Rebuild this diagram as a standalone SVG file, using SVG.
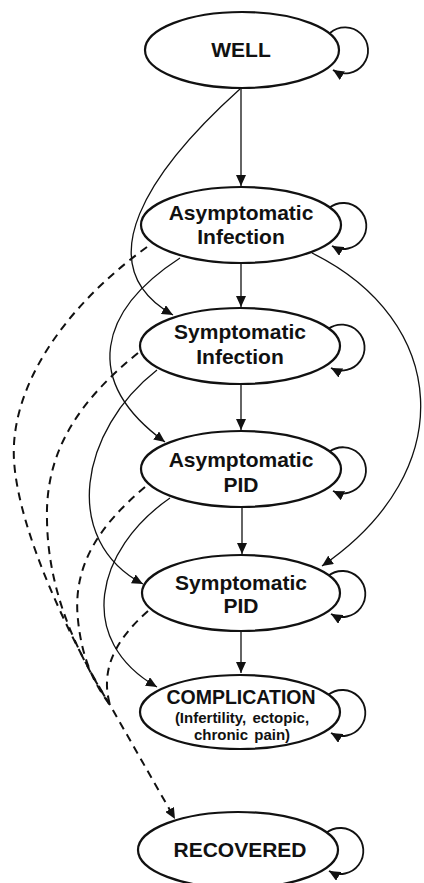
<svg xmlns="http://www.w3.org/2000/svg" width="424" height="883" viewBox="0 0 424 883">
<style>
.node ellipse{fill:#fff;stroke:#111;stroke-width:2.2}
.t{font-family:"Liberation Sans",Arial,sans-serif;font-weight:bold;font-size:21px;fill:#111;text-anchor:middle}
.s{font-family:"Liberation Sans",Arial,sans-serif;font-weight:bold;font-size:15px;fill:#111;text-anchor:middle;word-spacing:2px}
.c{fill:none;stroke:#111;stroke-width:1.3}
.d{fill:none;stroke:#111;stroke-width:2;stroke-dasharray:8 6}
.loop{fill:none;stroke:#111;stroke-width:1.8}
</style>
<defs>
<marker id="ah" markerUnits="userSpaceOnUse" markerWidth="12" markerHeight="10" refX="11" refY="5" orient="auto">
<path d="M0,0 L11,5 L0,10 z" fill="#111"/>
</marker>
</defs>
<rect width="424" height="883" fill="#fff"/>
<g id="connectors">
<path class="c" d="M241 88 L241 186" marker-end="url(#ah)"/>
<path class="c" d="M241 263 L241 307" marker-end="url(#ah)"/>
<path class="c" d="M241 384 L241 430" marker-end="url(#ah)"/>
<path class="c" d="M242 507 L242 554" marker-end="url(#ah)"/>
<path class="c" d="M241 631 L241 673" marker-end="url(#ah)"/>
<path class="c" d="M240 89 C150 170 85 265 173 315" marker-end="url(#ah)"/>
<path class="c" d="M180 258 C100 310 80 380 165 442" marker-end="url(#ah)"/>
<path class="c" d="M157 370 C80 430 60 540 143 584" marker-end="url(#ah)"/>
<path class="c" d="M170 498 C95 550 75 640 157 687" marker-end="url(#ah)"/>
<path class="c" d="M312 253 C448 320 462 470 322 566" marker-end="url(#ah)"/>
<path class="d" d="M147 247 C60 310 10 390 14 460 C18 530 70 640 110 705 L175 819" marker-end="url(#ah)"/>
<path class="d" d="M138 353 C80 400 45 450 47 520 C48 590 75 650 110 705"/>
<path class="d" d="M145 487 C100 525 72 565 78 620 C82 660 95 685 110 705"/>
<path class="d" d="M148 611 C115 640 100 670 110 705"/>
<path class="loop" d="M330 33 A23 23 0 1 1 333 70" marker-end="url(#ah)"/>
<path class="loop" d="M329 208 A23 23 0 1 1 332 246" marker-end="url(#ah)"/>
<path class="loop" d="M328 329 A23 23 0 1 1 331 368" marker-end="url(#ah)"/>
<path class="loop" d="M329 452 A23 23 0 1 1 333 491" marker-end="url(#ah)"/>
<path class="loop" d="M328 576 A23 23 0 1 1 331 614" marker-end="url(#ah)"/>
<path class="loop" d="M328 695 A23 23 0 1 1 331 733" marker-end="url(#ah)"/>
<path class="loop" d="M326 833 A23 23 0 1 1 329 871" marker-end="url(#ah)"/>
</g>
<g id="well" class="node"><ellipse cx="242" cy="50" rx="97" ry="38"/><text class="t" x="241" y="57">WELL</text></g>
<g id="asym-infection" class="node"><ellipse cx="241" cy="225" rx="100" ry="38"/><text class="t" x="241" y="220">Asymptomatic</text><text class="t" x="241" y="244">Infection</text></g>
<g id="sym-infection" class="node"><ellipse cx="240" cy="346" rx="100" ry="38"/><text class="t" x="240" y="339">Symptomatic</text><text class="t" x="240" y="364">Infection</text></g>
<g id="asym-pid" class="node"><ellipse cx="241" cy="469" rx="100" ry="38"/><text class="t" x="241" y="467">Asymptomatic</text><text class="t" x="241" y="492">PID</text></g>
<g id="sym-pid" class="node"><ellipse cx="241" cy="593" rx="99" ry="38"/><text class="t" x="241" y="590">Symptomatic</text><text class="t" x="241" y="613">PID</text></g>
<g id="complication" class="node"><ellipse cx="240" cy="712" rx="100" ry="37"/><text class="t" x="241" y="704" style="font-size:19.5px">COMPLICATION</text><text class="s" x="242" y="723">(Infertility, ectopic,</text><text class="s" x="242" y="740">chronic pain)</text></g>
<g id="recovered" class="node"><ellipse cx="238" cy="850" rx="100" ry="38"/><text class="t" x="240" y="857">RECOVERED</text></g>
</svg>
